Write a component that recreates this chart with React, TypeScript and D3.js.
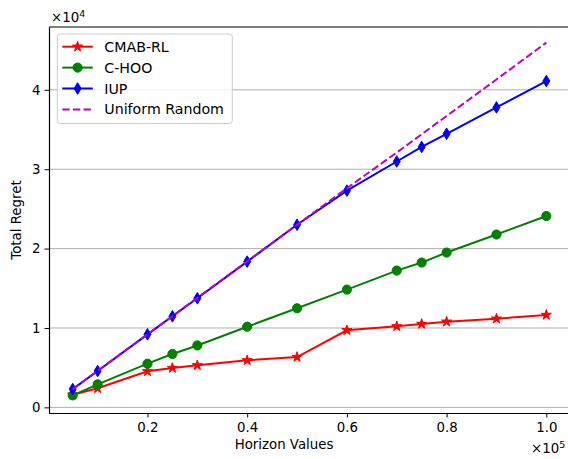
import React, { useEffect, useRef } from 'react';
import * as d3 from 'd3';

// horizon values in units of 1e5, regret in units of 1e4
const horizons = [0.05, 0.1, 0.2, 0.25, 0.3, 0.4, 0.5, 0.6, 0.7, 0.75, 0.8, 0.9, 1.0];
const cmabRL = [0.159, 0.24, 0.454, 0.496, 0.53, 0.593, 0.634, 0.971, 1.021, 1.05, 1.079, 1.117, 1.164];
const cHOO = [0.151, 0.29, 0.55, 0.672, 0.78, 1.016, 1.248, 1.483, 1.723, 1.824, 1.95, 2.177, 2.41];
const iup = [0.23, 0.458, 0.92, 1.147, 1.374, 1.836, 2.3, 2.73, 3.097, 3.28, 3.446, 3.778, 4.11];
const uniformRandom = [0.23, 0.46, 0.92, 1.15, 1.38, 1.84, 2.3, 2.76, 3.21, 3.44, 3.67, 4.13, 4.594];
const xTicks = [0.2, 0.4, 0.6, 0.8, 1.0];
const yTicks = [0, 1, 2, 3, 4];

const series = [
  { name: 'CMAB-RL', values: cmabRL, color: '#ff0000', marker: 'star', dashed: false },
  { name: 'C-HOO', values: cHOO, color: '#008000', marker: 'circle', dashed: false },
  { name: 'IUP', values: iup, color: '#0000ff', marker: 'diamond', dashed: false },
  { name: 'Uniform Random', values: uniformRandom, color: '#bf00bf', marker: null, dashed: true },
];

const W = 568;
const H = 459;
const margin = { top: 27, right: -2, bottom: 46, left: 49 };
const font = 'DejaVu Sans, sans-serif';
const fs = 13.33;
const legendFs = 14.2;

function markerPath(kind) {
  if (kind === 'star') return d3.symbol(d3.symbolStar, 32)();
  if (kind === 'circle') return d3.symbol(d3.symbolCircle, 66)();
  if (kind === 'diamond') return 'M0,-5.8L3.5,0L0,5.8L-3.5,0Z';
  return null;
}

export default function App() {
  const svgRef = useRef();

  useEffect(() => {
    const svg = d3.select(svgRef.current);
    svg.selectAll('*').remove();

    const width = W - margin.left - margin.right;
    const height = H - margin.top - margin.bottom;

    const x = d3.scaleLinear().domain([0.0025, 1.0475]).range([0, width]);
    const y = d3.scaleLinear().domain([-0.071, 4.791]).range([height, 0]);

    const g = svg.append('g').attr('transform', `translate(${margin.left},${margin.top})`);

    // grid
    g.selectAll('.grid')
      .data(yTicks)
      .enter()
      .append('line')
      .attr('x1', 0)
      .attr('x2', width)
      .attr('y1', (d) => y(d))
      .attr('y2', (d) => y(d))
      .attr('stroke', '#b0b0b0')
      .attr('stroke-width', 1);

    const line = d3.line().x((d) => x(d[0])).y((d) => y(d[1]));

    series.forEach((s) => {
      const pts = horizons.map((h, i) => [h, s.values[i]]);
      g.append('path')
        .datum(pts)
        .attr('d', line)
        .attr('fill', 'none')
        .attr('stroke', s.color)
        .attr('stroke-width', 2)
        .attr('stroke-dasharray', s.dashed ? '7.4,3.2' : null);
      if (s.marker) {
        g.selectAll(null)
          .data(pts)
          .enter()
          .append('path')
          .attr('d', markerPath(s.marker))
          .attr('transform', (d) => `translate(${x(d[0])},${y(d[1])})`)
          .attr('fill', s.color)
          .attr('stroke', s.color)
          .attr('stroke-width', 1);
      }
    });

    // axes
    const xAxis = g.append('g')
      .attr('transform', `translate(0,${height})`)
      .call(d3.axisBottom(x).tickValues(xTicks).tickFormat(d3.format('.1f')).tickSize(4.5).tickSizeOuter(0).tickPadding(5));
    const yAxis = g.append('g')
      .call(d3.axisLeft(y).tickValues(yTicks).tickFormat(d3.format('d')).tickSize(4.5).tickSizeOuter(0).tickPadding(4));
    [xAxis, yAxis].forEach((a) => {
      a.selectAll('text').attr('font-family', font).attr('font-size', fs).attr('fill', '#000');
      a.selectAll('line').attr('stroke', '#000').attr('stroke-width', 1);
      a.select('.domain').attr('stroke', '#000').attr('stroke-width', 1.2);
    });

    // top spine
    g.append('line').attr('x1', 0).attr('x2', width).attr('y1', 0).attr('y2', 0)
      .attr('stroke', '#000').attr('stroke-width', 1.2);

    // axis labels
    svg.append('text')
      .attr('x', 284)
      .attr('y', 449)
      .attr('text-anchor', 'middle')
      .attr('font-family', font)
      .attr('font-size', fs)
      .text('Horizon Values');

    svg.append('text')
      .attr('transform', `translate(20.5,${margin.top + height / 2}) rotate(-90)`)
      .attr('text-anchor', 'middle')
      .attr('font-family', font)
      .attr('font-size', fs)
      .text('Total Regret');

    const offsetTop = svg.append('text')
      .attr('x', 51).attr('y', 22)
      .attr('font-family', font).attr('font-size', fs);
    offsetTop.append('tspan').text('×10');
    offsetTop.append('tspan').attr('dy', -5.5).attr('font-size', 9.5).text('4');

    const offsetBottom = svg.append('text')
      .attr('x', 531).attr('y', 453)
      .attr('font-family', font).attr('font-size', fs);
    offsetBottom.append('tspan').text('×10');
    offsetBottom.append('tspan').attr('dy', -5.5).attr('font-size', 9.5).text('5');

    // legend
    const lg = svg.append('g').attr('transform', 'translate(57.3,34)');
    lg.append('rect')
      .attr('width', 175).attr('height', 89.5)
      .attr('rx', 3)
      .attr('fill', 'rgba(255,255,255,0.8)')
      .attr('stroke', '#cccccc')
      .attr('stroke-width', 1);
    series.forEach((s, i) => {
      const yy = 12.7 + i * 20.9;
      lg.append('line')
        .attr('x1', 5).attr('x2', 35.5).attr('y1', yy).attr('y2', yy)
        .attr('stroke', s.color).attr('stroke-width', 2)
        .attr('stroke-dasharray', s.dashed ? '7.4,3.2' : null);
      if (s.marker) {
        lg.append('path')
          .attr('d', markerPath(s.marker))
          .attr('transform', `translate(20.3,${yy})`)
          .attr('fill', s.color).attr('stroke', s.color).attr('stroke-width', 1);
      }
      lg.append('text')
        .attr('x', 47).attr('y', yy + 5)
        .attr('font-family', font).attr('font-size', legendFs)
        .text(s.name);
    });
  }, []);

  return (
    <svg
      ref={svgRef}
      width={W}
      height={H}
      style={{ position: 'absolute', left: 0, top: 0, background: '#fff' }}
    />
  );
}
